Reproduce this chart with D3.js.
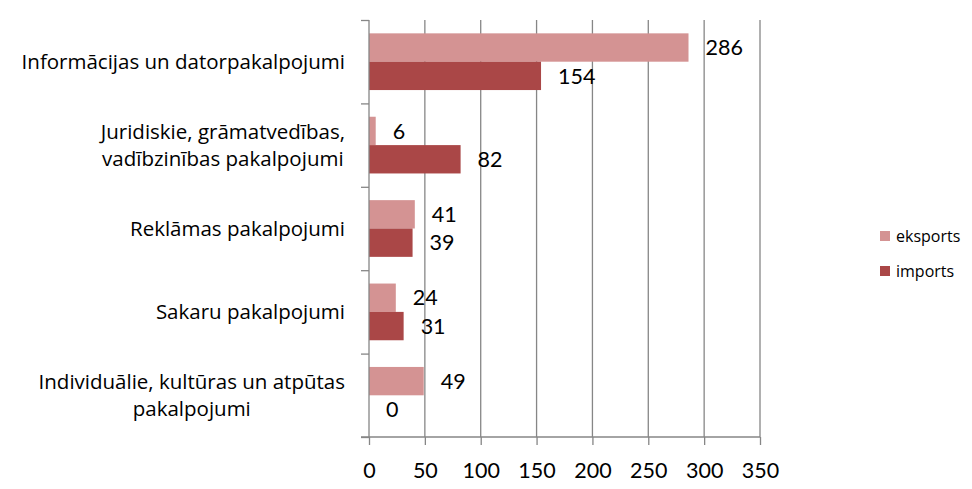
<!DOCTYPE html>
<html>
<head>
<meta charset="utf-8">
<script src="https://cdn.jsdelivr.net/npm/d3@7"></script>
<style>
	body { margin: 0; background: white; }
	text { font-family: Lato, "Open Sans", sans-serif; fill: #000; }
</style>
</head>
<body>
<div id="chart"></div>
<script>
var categories = [
	["Informācijas un datorpakalpojumi"],
	["Juridiskie, grāmatvedības,", "vadībzinības  pakalpojumi"],
	["Reklāmas pakalpojumi"],
	["Sakaru pakalpojumi"],
	["Individuālie, kultūras un atpūtas", "pakalpojumi"]
];
var seriesNames = ["eksports", "imports"];
var eksports = [286, 6, 41, 24, 49];
var imports = [154, 82, 39, 31, 0];
var xTicks = [0, 50, 100, 150, 200, 250, 300, 350];
var colors = ["#d49393", "#aa4747"];

var width = 972, height = 489;
var svg = d3.select("#chart").append("svg")
	.attr("width", width)
	.attr("height", height);

var x = d3.scaleLinear().domain([0, 350]).range([369, 760]);
var y = d3.scaleBand().domain(d3.range(categories.length)).range([20, 437])
	.paddingInner(0.32).paddingOuter(0.16);
var ySub = d3.scaleBand().domain([0, 1]).range([0, y.bandwidth()]);

// vertical gridlines
svg.append("g").selectAll("line")
	.data(xTicks.slice(1))
	.enter().append("line")
	.attr("x1", d => x(d)).attr("x2", d => x(d))
	.attr("y1", 20).attr("y2", 437)
	.style("stroke", "#868686").style("stroke-width", 1.3);

// bars
var rows = categories.map((c, i) => [eksports[i], imports[i]]);
var groups = svg.append("g").selectAll("g")
	.data(rows)
	.enter().append("g")
	.attr("transform", (d, i) => "translate(0," + y(i) + ")");

groups.selectAll("rect")
	.data(d => d)
	.enter().append("rect")
	.attr("x", x(0))
	.attr("y", (d, j) => ySub(j))
	.attr("width", d => x(d) - x(0))
	.attr("height", ySub.bandwidth())
	.attr("fill", (d, j) => colors[j]);

groups.selectAll("text.val")
	.data(d => d)
	.enter().append("text")
	.attr("class", "val")
	.attr("x", d => x(d) + 17)
	.attr("y", (d, j) => ySub(j) + ySub.bandwidth() / 2)
	.attr("dy", "0.36em")
	.style("font-size", "21.5px")
	.text(d => d);

// left axis
var yAxis = d3.axisLeft(d3.scaleLinear().domain([0, 5]).range([20, 437]))
	.ticks(5).tickSize(8).tickFormat("");
var ya = svg.append("g").attr("transform", "translate(" + x(0) + ",0)").call(yAxis);
ya.selectAll("path, line").style("stroke", "#868686").style("stroke-width", 1.3);
ya.select("path").attr("d", "M0,20V437");

// bottom axis
var xAxis = d3.axisBottom(x).tickValues(xTicks).tickSize(8).tickPadding(18);
var xa = svg.append("g").attr("transform", "translate(0,437)").call(xAxis);
xa.selectAll("path, line").style("stroke", "#868686").style("stroke-width", 1.3);
xa.select("path").attr("d", "M" + (x(0) - 8) + ",0H" + x(350));
xa.selectAll("text").style("font-size", "21.5px").style("font-family", "Lato, 'Open Sans', sans-serif").attr("fill", "#000");

// category labels
var labelRight = 345;
categories.forEach(function(lines, i) {
	var cy = y(i) + y.bandwidth() / 2;
	var g = svg.append("g");
	var lh = 27;
	var texts = lines.map(function(line, k) {
		return g.append("text")
			.attr("y", cy + (k - (lines.length - 1) / 2) * lh)
			.attr("dy", "0.35em")
			.style("font-family", "'Open Sans', sans-serif")
			.style("font-size", "20.5px")
			.style("text-anchor", "middle")
			.text(line);
	});
	var maxW = d3.max(texts, t => t.node().getComputedTextLength());
	texts.forEach(t => t.attr("x", labelRight - maxW / 2));
});

// legend
var legend = svg.append("g").selectAll("g")
	.data(seriesNames)
	.enter().append("g")
	.attr("transform", (d, i) => "translate(880," + (236 + i * 35) + ")");
legend.append("rect")
	.attr("x", 0).attr("y", -5)
	.attr("width", 10).attr("height", 10)
	.attr("fill", (d, i) => colors[i]);
legend.append("text")
	.attr("x", 16).attr("dy", "0.35em")
	.style("font-family", "'Open Sans', sans-serif")
	.style("font-size", "16px")
	.text(d => d);
</script>
</body>
</html>
